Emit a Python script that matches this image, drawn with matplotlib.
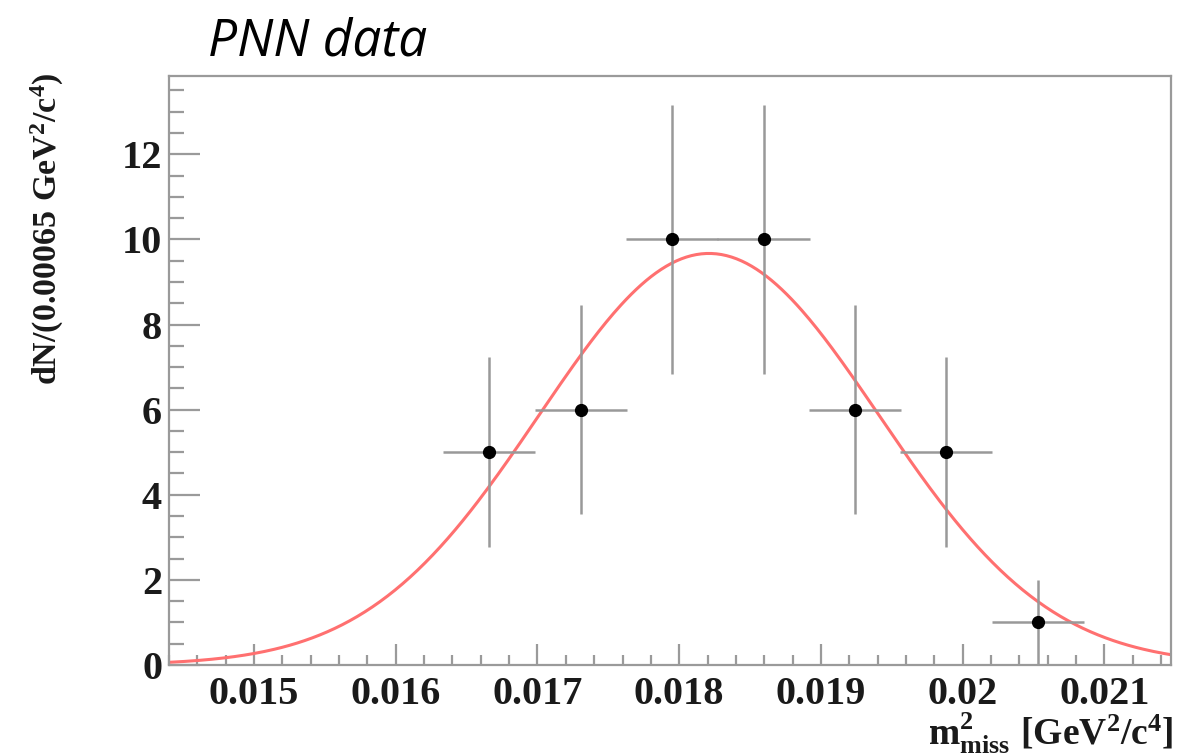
import numpy as np
import matplotlib
matplotlib.use("Agg")
import matplotlib.pyplot as plt
from matplotlib.ticker import MultipleLocator, FixedFormatter, FixedLocator

# histogram bins (bin width 0.00065 GeV^2/c^4)
bin_centers = [0.01666, 0.017305, 0.01795, 0.018595, 0.01924, 0.019885, 0.02053]
counts = [5, 6, 10, 10, 6, 5, 1]
bin_width = 0.00065

# gaussian fit
fit_amp = 9.67
fit_mean = 0.01821
fit_sigma = 0.0012

x_ticks = [0.015, 0.016, 0.017, 0.018, 0.019, 0.02, 0.021]
x_ticklabels = ["0.015", "0.016", "0.017", "0.018", "0.019", "0.02", "0.021"]
y_ticks = [0, 2, 4, 6, 8, 10, 12]

plt.rcParams['mathtext.fontset'] = 'custom'
plt.rcParams['mathtext.rm'] = 'Liberation Serif:bold'
plt.rcParams['mathtext.it'] = 'Liberation Serif:bold'
plt.rcParams['mathtext.bf'] = 'Liberation Serif:bold'

fig = plt.figure(figsize=(11.91, 7.56), dpi=100)
ax = fig.add_axes([0.1419, 0.1204, 0.8413, 0.7791])

frame_col = '#9a9a9a'
for side in ['left', 'bottom', 'right', 'top']:
    ax.spines[side].set_color(frame_col)
    ax.spines[side].set_linewidth(1.6)

errs = np.sqrt(counts)
ax.errorbar(bin_centers, counts, yerr=errs, xerr=bin_width / 2, fmt='o',
            color='black', ecolor='#999999', elinewidth=1.8, markersize=8.5,
            capsize=0, zorder=3)

xs = np.linspace(0.0144, 0.02147, 400)
ys = fit_amp * np.exp(-0.5 * ((xs - fit_mean) / fit_sigma) ** 2)
ax.plot(xs, ys, color='#ff7070', lw=2.2, zorder=2)

ax.set_xlim(0.0144, 0.02147)
ax.set_ylim(0, 13.84)

ax.xaxis.set_major_locator(FixedLocator(x_ticks))
ax.xaxis.set_major_formatter(FixedFormatter(x_ticklabels))
ax.xaxis.set_minor_locator(MultipleLocator(0.0002))
ax.yaxis.set_major_locator(FixedLocator(y_ticks))
ax.yaxis.set_minor_locator(MultipleLocator(0.5))

ax.tick_params(which='both', direction='in', color=frame_col, width=1.6,
               top=False, right=False)
ax.tick_params(axis='x', which='major', length=15, pad=8)
ax.tick_params(axis='x', which='minor', length=7.5)
ax.tick_params(axis='y', which='major', length=22, pad=5)
ax.tick_params(axis='y', which='minor', length=11)

for lab in ax.get_xticklabels() + ax.get_yticklabels():
    lab.set_fontfamily('Liberation Serif')
    lab.set_fontweight('bold')
    lab.set_fontsize(29)
    lab.set_color('#1a1a1a')

# axis titles placed in figure pixels, ROOT style
fig.text(47 / 1191, 1 - 229 / 756, r'$\mathrm{dN/(0.00065\ GeV^{2}/c^{4})}$',
         fontsize=24.5, color='#1a1a1a', rotation=90, ha='center', va='center')
fig.text(1173 / 1191, 1 - 745 / 756, r'$\mathrm{m^{2}_{miss}\ [GeV^{2}/c^{4}]}$',
         fontsize=27, color='#1a1a1a', ha='right', va='baseline')

fig.text(208 / 1191, 1 - 56 / 756, 'PNN data', fontfamily='Open Sans',
         style='italic', fontsize=37, va='baseline', ha='left')

fig.savefig('out.png', dpi=100)
